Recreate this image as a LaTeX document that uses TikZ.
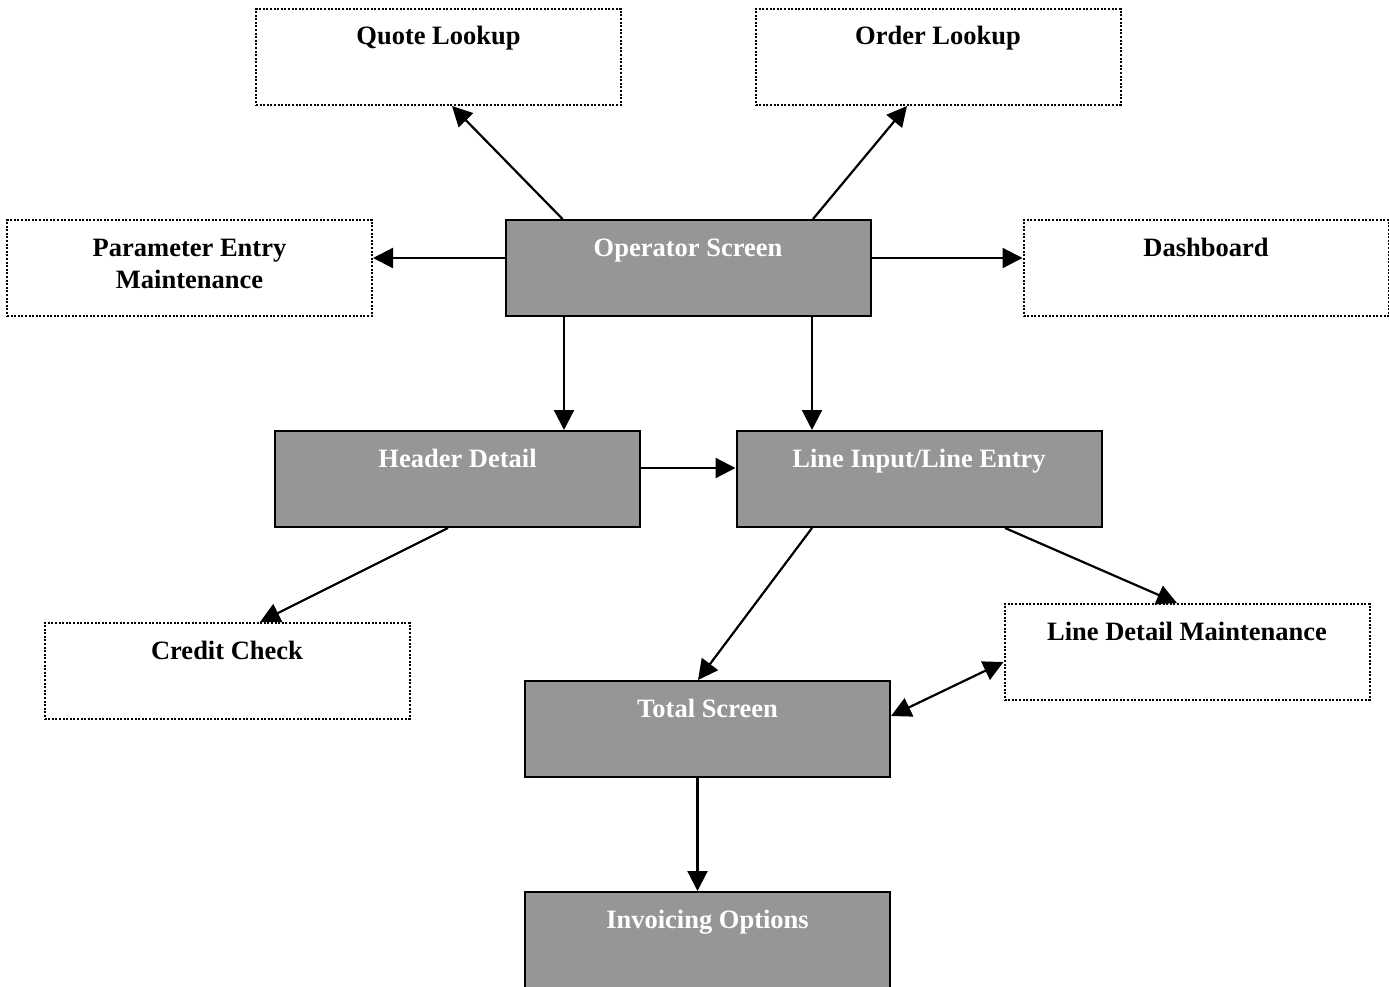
\documentclass[tikz,border=0pt]{standalone}
\usepackage{fontspec}
\setmainfont{Liberation Serif}
\usetikzlibrary{arrows.meta}
\definecolor{boxgray}{HTML}{969696}
\tikzset{
  x=1pt, y=-1pt,
  basebox/.style={rectangle, minimum width=365pt, minimum height=96pt, inner xsep=0pt, inner ysep=0pt,
    text height=36pt, text depth=60pt, align=center, font=\fontsize{26.5}{32}\selectfont\bfseries},
  dotbox/.style={basebox, draw=black, fill=white, line width=2pt, dash pattern=on 2pt off 1.6pt},
  graybox/.style={basebox, draw=black, fill=boxgray, text=white, line width=2pt},
  conn/.style={line width=2.2pt, -{Triangle[length=20pt,width=20pt]}},
  bconn/.style={line width=2.2pt, {Triangle[length=20pt,width=20pt]}-{Triangle[length=20pt,width=20pt]}},
}
\begin{document}
\begin{tikzpicture}
\useasboundingbox (0,0) rectangle (1389,987);
\fill[white] (0,0) rectangle (1389,987);

\node[dotbox] (quote) at (438.5,57) {Quote Lookup};
\node[dotbox] (order) at (938,57) {Order Lookup};
\node[dotbox, text height=36pt, text depth=60pt] (param) at (189.5,268) {};
\node[font=\fontsize{26.5}{32}\selectfont\bfseries, align=center, anchor=base, inner sep=0pt] (paramT) at (189.5,256) {Parameter Entry};
\node[font=\fontsize{26.5}{32}\selectfont\bfseries, align=center, anchor=base, inner sep=0pt] (paramT2) at (189.5,288) {Maintenance};
\node[graybox] (op) at (688,268) {Operator Screen};
\node[dotbox] (dash) at (1206,268) {Dashboard};
\node[graybox] (header) at (457.5,479) {Header Detail};
\node[graybox] (line) at (919,479) {Line Input/Line Entry};
\node[dotbox] (credit) at (227,671) {Credit Check};
\node[dotbox] (linedet) at (1187,652) {Line Detail Maintenance};
\node[graybox] (total) at (707.5,729) {Total Screen};
\node[graybox] (inv) at (707.5,940) {Invoicing Options};

\draw[conn] ([xshift=58pt]op.north west) -- ([xshift=13.5pt]quote.south);
\draw[conn] ([xshift=125pt]op.north) -- ([xshift=-31pt]order.south);
\draw[conn] ([yshift=10pt]op.west) -- ([yshift=10pt]param.east);
\draw[conn] ([yshift=10pt]op.east) -- ([yshift=10pt]dash.west);
\draw[conn] ([xshift=-124pt]op.south) -- ([xshift=106.5pt]header.north);
\draw[conn] ([xshift=124pt]op.south) -- ([xshift=-107pt]line.north);
\draw[conn] ([yshift=11pt]header.east) -- ([yshift=11pt]line.west);
\draw[conn] ([xshift=-9.5pt]header.south) -- ([xshift=33pt]credit.north);
\draw[conn] ([xshift=-107pt]line.south) -- ([xshift=-9.5pt]total.north);
\draw[conn] ([xshift=86pt]line.south) -- ([xshift=-10pt]linedet.north);
\draw[bconn] ([yshift=13pt]total.east) -- ([yshift=-10pt]linedet.west);
\draw[conn] ([xshift=-10pt]total.south) -- ([xshift=-10pt]inv.north);
\end{tikzpicture}
\end{document}
